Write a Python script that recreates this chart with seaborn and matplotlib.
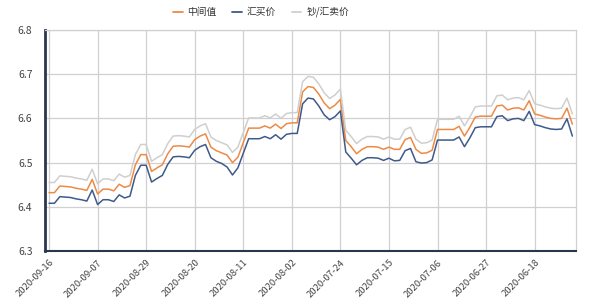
import matplotlib
matplotlib.use("Agg")
import matplotlib.pyplot as plt
import seaborn as sns
import pandas as pd
import numpy as np
from matplotlib.lines import Line2D

# ---- data ----
dates = pd.date_range("2020-06-11", "2020-09-16", freq="D")[::-1].strftime("%Y-%m-%d").tolist()

mid = [6.432, 6.432, 6.447, 6.446, 6.445, 6.442, 6.440, 6.437, 6.462, 6.429,
       6.440, 6.440, 6.436, 6.451, 6.444, 6.448, 6.495, 6.518, 6.518, 6.480,
       6.488, 6.495, 6.520, 6.537, 6.538, 6.537, 6.535, 6.552, 6.560, 6.565,
       6.535, 6.527, 6.522, 6.517, 6.500, 6.512, 6.545, 6.578, 6.578, 6.578,
       6.583, 6.578, 6.587, 6.577, 6.588, 6.590, 6.590, 6.660, 6.672, 6.670,
       6.655, 6.635, 6.622, 6.630, 6.643, 6.550, 6.536, 6.520, 6.530, 6.536,
       6.536, 6.535, 6.530, 6.535, 6.530, 6.530, 6.552, 6.557, 6.530, 6.521,
       6.522, 6.528, 6.575, 6.575, 6.575, 6.575, 6.582, 6.560, 6.580, 6.603,
       6.605, 6.605, 6.605, 6.628, 6.630, 6.619, 6.623, 6.624, 6.619, 6.640,
       6.610, 6.607, 6.603, 6.600, 6.599, 6.600, 6.623, 6.587]

buy = [6.408, 6.408, 6.423, 6.422, 6.421, 6.418, 6.416, 6.413, 6.438, 6.405,
       6.416, 6.416, 6.412, 6.427, 6.420, 6.424, 6.471, 6.494, 6.494, 6.456,
       6.464, 6.471, 6.496, 6.513, 6.514, 6.513, 6.511, 6.528, 6.536, 6.541,
       6.511, 6.503, 6.498, 6.490, 6.472, 6.488, 6.521, 6.554, 6.554, 6.554,
       6.559, 6.554, 6.563, 6.553, 6.564, 6.566, 6.566, 6.633, 6.646, 6.644,
       6.628, 6.608, 6.597, 6.604, 6.617, 6.524, 6.510, 6.495, 6.505, 6.511,
       6.511, 6.510, 6.505, 6.510, 6.504, 6.505, 6.527, 6.532, 6.502, 6.499,
       6.500, 6.506, 6.551, 6.551, 6.551, 6.551, 6.558, 6.536, 6.556, 6.579,
       6.581, 6.581, 6.581, 6.604, 6.606, 6.595, 6.599, 6.600, 6.595, 6.616,
       6.586, 6.583, 6.579, 6.576, 6.575, 6.576, 6.599, 6.560]

sell = [6.455, 6.455, 6.470, 6.469, 6.468, 6.465, 6.463, 6.460, 6.485, 6.452,
        6.463, 6.463, 6.459, 6.474, 6.467, 6.471, 6.518, 6.541, 6.541, 6.503,
        6.511, 6.518, 6.543, 6.560, 6.561, 6.560, 6.558, 6.575, 6.583, 6.588,
        6.558, 6.550, 6.545, 6.540, 6.523, 6.535, 6.568, 6.601, 6.601, 6.601,
        6.606, 6.601, 6.610, 6.600, 6.611, 6.613, 6.613, 6.683, 6.695, 6.693,
        6.678, 6.658, 6.645, 6.653, 6.666, 6.573, 6.559, 6.543, 6.553, 6.559,
        6.559, 6.558, 6.553, 6.558, 6.553, 6.553, 6.575, 6.580, 6.553, 6.544,
        6.545, 6.551, 6.598, 6.598, 6.598, 6.598, 6.605, 6.583, 6.603, 6.626,
        6.628, 6.628, 6.628, 6.651, 6.653, 6.642, 6.646, 6.647, 6.642, 6.663,
        6.633, 6.630, 6.626, 6.623, 6.622, 6.623, 6.646, 6.610]

series_names = ["中间值", "汇买价", "钞/汇卖价"]
colors = ["#ee8a45", "#3f5a8a", "#cfcfcf"]
yticks = [6.3, 6.4, 6.5, 6.6, 6.7, 6.8]

# ---- frame ----
n = len(dates)
idx = list(range(n))
df = pd.concat([
    pd.DataFrame({"i": idx, "date": dates, "value": v, "series": s})
    for s, v in zip(series_names, [mid, buy, sell])
])

sns.set_theme(style="white")
plt.rcParams["font.family"] = ["Noto Sans CJK SC", "DejaVu Sans"]

fig = plt.figure(figsize=(6, 3.04), dpi=100)
ax = fig.add_axes([45/600, 1-251/304, (576-45)/600, (251-30)/304])

sns.lineplot(data=df, x="i", y="value", hue="series", hue_order=series_names,
             palette=colors, linewidth=1.1, ax=ax, legend=False, zorder=3)

ax.set_xlim(-0.75, n - 1 + 0.67)
ax.set_ylim(6.3, 6.8)
ax.set_yticks(yticks)
ax.set_yticklabels([f"{t:.1f}" for t in yticks], fontsize=7.5, color="#444444")
tick_pos = idx[::9]
ax.set_xticks(tick_pos)
ax.set_xticklabels([dates[i] for i in tick_pos], rotation=45, ha="right",
                   rotation_mode="anchor", fontsize=6.8, color="#444444")
ax.set_xlabel("")
ax.set_ylabel("")

ax.grid(True, color="#d0d0d0", linewidth=0.9)
ax.set_axisbelow(True)
ax.tick_params(axis="y", length=0, pad=9)
ax.tick_params(axis="x", length=3, color="#888888", pad=2)

for side in ["top", "right"]:
    ax.spines[side].set_color("#d0d0d0")
    ax.spines[side].set_linewidth(0.9)
ax.spines["left"].set_color("#2b3550")
ax.spines["left"].set_linewidth(2.0)
ax.spines["bottom"].set_color("#2b3550")
ax.spines["bottom"].set_linewidth(1.5)

handles = [Line2D([0], [0], color=c, lw=1.3) for c in colors]
fig.legend(handles, series_names, loc="center", bbox_to_anchor=(261/600, 1-12/304),
           ncol=3, frameon=False, fontsize=7, handlelength=1.0, handletextpad=0.5,
           columnspacing=1.6, labelcolor="#333333")

fig.savefig("out.png", dpi=100)
